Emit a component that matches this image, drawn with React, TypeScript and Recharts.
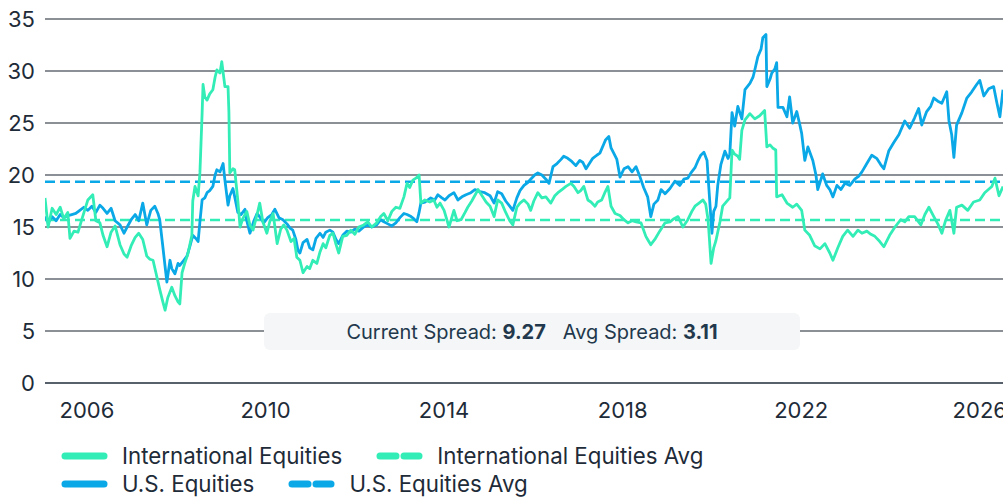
import React from 'react';
import { LineChart, Line, XAxis, YAxis, CartesianGrid, ReferenceLine } from 'recharts';

// forward P/E (decimal years)
const intlYears = [
  2005.06, 2005.13, 2005.22, 2005.31, 2005.40, 2005.48, 2005.57, 2005.62, 2005.71, 2005.80, 2005.89,
  2006.02, 2006.13, 2006.20, 2006.29, 2006.36, 2006.45, 2006.54, 2006.63, 2006.74, 2006.83, 2006.90, 2006.99,
  2007.08, 2007.16, 2007.25, 2007.34, 2007.41, 2007.48, 2007.55, 2007.63, 2007.70, 2007.75, 2007.81, 2007.90, 2007.97,
  2008.04, 2008.08, 2008.13, 2008.19, 2008.26, 2008.35, 2008.37, 2008.42, 2008.49, 2008.53, 2008.58, 2008.60, 2008.64,
  2008.69, 2008.75, 2008.82, 2008.87, 2008.91, 2008.98,
  2009.02, 2009.09, 2009.16, 2009.18, 2009.20, 2009.27, 2009.31, 2009.38, 2009.43, 2009.49, 2009.58, 2009.65, 2009.72,
  2009.81, 2009.87, 2009.94,
  2010.03, 2010.10, 2010.17, 2010.26, 2010.34, 2010.41, 2010.48, 2010.57, 2010.64, 2010.70, 2010.77, 2010.84, 2010.93, 2010.99,
  2011.06, 2011.15, 2011.22, 2011.29, 2011.35, 2011.44, 2011.51, 2011.58, 2011.64, 2011.73, 2011.82, 2011.91,
  2012.00, 2012.09, 2012.20, 2012.29, 2012.38, 2012.49, 2012.58, 2012.65, 2012.74, 2012.83, 2012.92,
  2013.01, 2013.10, 2013.17, 2013.23, 2013.30, 2013.37, 2013.44, 2013.48, 2013.57, 2013.68, 2013.77, 2013.84, 2013.91,
  2014.00, 2014.11, 2014.22, 2014.29, 2014.38, 2014.47, 2014.53, 2014.62, 2014.71, 2014.76, 2014.85, 2014.94,
  2015.03, 2015.12, 2015.20, 2015.29, 2015.38, 2015.47, 2015.54, 2015.63, 2015.70, 2015.79, 2015.88, 2015.94,
  2016.01, 2016.10, 2016.19, 2016.28, 2016.39, 2016.48, 2016.55, 2016.64, 2016.73, 2016.84, 2016.91,
  2017.00, 2017.06, 2017.13, 2017.22, 2017.29, 2017.38, 2017.44, 2017.53, 2017.60, 2017.67, 2017.74, 2017.83, 2017.94,
  2018.03, 2018.12, 2018.21, 2018.30, 2018.41, 2018.52, 2018.56, 2018.63, 2018.72, 2018.83, 2018.95,
  2019.06, 2019.15, 2019.24, 2019.35, 2019.46, 2019.55, 2019.62, 2019.71, 2019.80, 2019.86, 2019.91, 2019.93, 2019.98,
  2020.04, 2020.09, 2020.18, 2020.24, 2020.36, 2020.40, 2020.45, 2020.51, 2020.58, 2020.62, 2020.67, 2020.74, 2020.85, 2020.96,
  2021.07, 2021.18, 2021.23, 2021.30, 2021.36, 2021.43, 2021.45, 2021.57, 2021.68, 2021.81, 2021.90,
  2022.01, 2022.08, 2022.19, 2022.30, 2022.42, 2022.53, 2022.64, 2022.71, 2022.82, 2022.93,
  2023.04, 2023.16, 2023.27, 2023.36, 2023.47, 2023.56, 2023.65, 2023.76, 2023.85, 2023.98,
  2024.10, 2024.23, 2024.32, 2024.41, 2024.54, 2024.68, 2024.77, 2024.86, 2024.97,
  2025.06, 2025.15, 2025.24, 2025.33, 2025.42, 2025.48, 2025.60, 2025.73, 2025.86,
  2026.00, 2026.11, 2026.27, 2026.34, 2026.43, 2026.52,
];
const intlValues = [
  17.8, 15.0, 16.8, 16.2, 16.9, 15.8, 16.4, 13.9, 14.6, 14.5, 15.8,
  17.6, 18.1, 15.6, 15.4, 14.2, 13.1, 14.5, 15.1, 13.3, 12.4, 12.1, 13.2,
  14.0, 14.4, 13.8, 12.2, 11.9, 11.8, 10.5, 9.0, 7.8, 7.0, 8.2, 9.2, 8.4,
  7.8, 7.6, 10.6, 11.5, 12.4, 14.2, 17.5, 18.9, 18.0, 20.2, 26.0, 28.7, 27.5,
  27.2, 27.8, 28.2, 29.4, 30.1, 29.8,
  30.9, 28.5, 28.5, 26.0, 20.2, 20.6, 20.5, 17.5, 15.0, 15.8, 16.5, 15.2, 14.7,
  16.2, 17.3, 15.5,
  14.4, 15.6, 16.3, 13.4, 14.8, 15.2, 14.7, 13.6, 13.9, 12.1, 11.8, 10.6, 11.2, 11.0,
  11.8, 11.5, 12.6, 13.4, 13.0, 14.2, 14.4, 13.3, 12.5, 14.1, 14.2, 14.7,
  14.3, 15.0, 15.2, 15.5, 15.0, 15.4, 16.0, 16.3, 15.6, 16.5, 16.9,
  16.8, 17.9, 19.2, 18.8, 19.5, 19.7, 20.0, 17.3, 17.6, 17.4, 17.6, 16.9, 17.3,
  16.6, 15.0, 16.6, 15.6, 15.7, 16.4, 16.9, 17.5, 18.2, 18.6, 18.0, 17.4,
  17.0, 16.0, 17.6, 17.3, 16.4, 15.6, 15.2, 16.9, 17.3, 17.6, 17.2, 16.6,
  17.5, 18.3, 17.8, 17.9, 17.3, 18.0, 18.3, 18.6, 18.9, 19.2, 18.9,
  18.3, 18.5, 18.9, 17.6, 17.4, 17.0, 17.4, 17.6, 18.3, 18.9, 17.0, 16.3, 16.1,
  15.7, 15.4, 15.6, 15.5, 15.4, 14.1, 13.8, 13.3, 13.8, 14.6, 15.4,
  15.5, 15.8, 16.0, 15.0, 15.7, 16.5, 17.0, 17.3, 17.6, 17.2, 15.8, 14.7, 11.5,
  13.0, 13.7, 15.5, 17.0, 17.6, 17.8, 22.4, 22.0, 21.8, 21.5, 24.3, 25.3, 25.9, 25.4,
  25.7, 26.2, 22.7, 22.9, 22.6, 22.4, 17.9, 18.1, 17.3, 16.9, 17.2,
  16.6, 14.7, 14.2, 13.2, 12.9, 13.4, 12.5, 11.8, 13.0, 14.1,
  14.7, 14.1, 14.7, 14.4, 14.6, 14.3, 14.1, 13.6, 13.1, 14.2,
  15.0, 15.7, 15.5, 16.0, 16.0, 15.2, 16.2, 16.9, 16.0,
  15.3, 14.4, 15.7, 16.6, 14.4, 16.9, 17.1, 16.6, 17.4,
  17.6, 18.3, 18.9, 19.7, 18.0, 18.9,
];

const usYears = [
  2005.06, 2005.13, 2005.22, 2005.31, 2005.40, 2005.48, 2005.57, 2005.66, 2005.75, 2005.84, 2005.93,
  2006.02, 2006.11, 2006.20, 2006.29, 2006.36, 2006.45, 2006.54, 2006.63, 2006.74, 2006.83, 2006.90, 2006.99,
  2007.08, 2007.16, 2007.25, 2007.34, 2007.43, 2007.52, 2007.59, 2007.63, 2007.70, 2007.75, 2007.79, 2007.86, 2007.90, 2007.97,
  2008.04, 2008.08, 2008.17, 2008.24, 2008.31, 2008.37, 2008.44, 2008.49, 2008.53, 2008.58, 2008.64, 2008.69, 2008.75,
  2008.82, 2008.87, 2008.91, 2008.98,
  2009.05, 2009.09, 2009.16, 2009.20, 2009.27, 2009.31, 2009.38, 2009.45, 2009.54, 2009.58, 2009.65, 2009.74, 2009.81,
  2009.90, 2009.96,
  2010.05, 2010.14, 2010.21, 2010.30, 2010.39, 2010.48, 2010.55, 2010.61, 2010.68, 2010.73, 2010.77, 2010.84, 2010.93, 2010.99,
  2011.06, 2011.13, 2011.22, 2011.29, 2011.35, 2011.44, 2011.51, 2011.58, 2011.64, 2011.73, 2011.82, 2011.91,
  2012.00, 2012.09, 2012.20, 2012.29, 2012.38, 2012.49, 2012.58, 2012.65, 2012.74, 2012.83, 2012.92,
  2013.01, 2013.10, 2013.17, 2013.26, 2013.32, 2013.39, 2013.44, 2013.48, 2013.57, 2013.70, 2013.79, 2013.86, 2013.95,
  2014.02, 2014.11, 2014.22, 2014.31, 2014.40, 2014.49, 2014.60, 2014.69, 2014.80, 2014.91,
  2015.03, 2015.12, 2015.20, 2015.29, 2015.38, 2015.47, 2015.54, 2015.63, 2015.70, 2015.79, 2015.88, 2015.94,
  2016.03, 2016.10, 2016.19, 2016.28, 2016.35, 2016.44, 2016.53, 2016.62, 2016.68, 2016.77, 2016.86, 2016.95,
  2017.04, 2017.11, 2017.18, 2017.24, 2017.33, 2017.42, 2017.49, 2017.58, 2017.62, 2017.69, 2017.74, 2017.80, 2017.87, 2017.94,
  2018.03, 2018.12, 2018.21, 2018.30, 2018.39, 2018.47, 2018.56, 2018.63, 2018.70, 2018.79, 2018.86, 2018.95,
  2019.06, 2019.17, 2019.28, 2019.37, 2019.46, 2019.53, 2019.62, 2019.68, 2019.75, 2019.82, 2019.89, 2019.93,
  2020.00, 2020.04, 2020.09, 2020.13, 2020.20, 2020.29, 2020.36, 2020.40, 2020.45, 2020.51, 2020.58, 2020.67, 2020.74,
  2020.85, 2020.92, 2020.96,
  2021.03, 2021.10, 2021.14, 2021.21, 2021.23, 2021.30, 2021.34, 2021.41, 2021.45, 2021.48, 2021.59, 2021.68, 2021.74,
  2021.81, 2021.90, 2021.97,
  2022.01, 2022.08, 2022.15, 2022.26, 2022.33, 2022.37, 2022.48, 2022.57, 2022.64, 2022.71, 2022.80, 2022.89, 2022.98,
  2023.09, 2023.20, 2023.29, 2023.36, 2023.47, 2023.58, 2023.69, 2023.78, 2023.85, 2023.96,
  2024.07, 2024.19, 2024.32, 2024.43, 2024.54, 2024.63, 2024.70, 2024.81, 2024.90, 2024.97,
  2025.06, 2025.15, 2025.26, 2025.31, 2025.37, 2025.42, 2025.48, 2025.60, 2025.71, 2025.82, 2025.93,
  2026.00, 2026.09, 2026.20, 2026.31, 2026.38, 2026.45, 2026.52,
];
const usValues = [
  16.0, 15.4, 16.0, 15.6, 16.2, 15.9, 16.1, 16.2, 16.3, 16.6, 16.9,
  16.6, 17.0, 16.4, 17.1, 16.8, 16.3, 16.8, 15.6, 15.2, 14.4, 15.0, 15.7,
  16.2, 15.6, 17.3, 15.2, 16.6, 17.0, 16.3, 15.7, 13.1, 11.2, 9.7, 11.8, 11.0, 10.5,
  11.5, 11.3, 11.8, 12.2, 13.2, 14.2, 13.9, 13.6, 15.5, 17.6, 17.8, 18.3, 18.5,
  18.9, 20.0, 20.5, 20.3,
  21.1, 19.5, 17.1, 18.0, 18.7, 17.9, 16.4, 16.2, 16.7, 15.6, 14.4, 15.6, 16.3,
  15.8, 15.4,
  15.9, 16.2, 16.7, 15.9, 15.7, 15.3, 14.9, 14.7, 13.8, 12.7, 12.5, 13.5, 13.8, 13.0,
  12.8, 13.9, 14.4, 14.0, 14.5, 14.7, 14.5, 13.8, 13.4, 14.2, 14.6, 14.5,
  14.8, 14.6, 15.0, 15.2, 15.0, 15.2, 15.7, 15.5, 15.3, 15.1, 15.4,
  15.9, 16.3, 16.2, 16.0, 15.8, 15.5, 16.4, 17.3, 17.4, 17.8, 17.6, 18.1, 17.8,
  17.6, 18.0, 18.3, 17.6, 17.9, 18.1, 18.3, 18.6, 18.4, 18.3,
  18.0, 17.3, 18.4, 18.2, 17.5, 17.0, 16.6, 17.8, 18.5, 19.0, 19.3, 19.6,
  20.0, 20.2, 20.0, 19.6, 19.2, 20.8, 21.1, 21.5, 21.8, 21.6, 21.3, 20.9,
  21.4, 21.2, 20.6, 21.0, 21.6, 21.9, 22.1, 23.0, 23.4, 23.7, 22.6, 22.1, 21.5, 19.8,
  20.6, 20.8, 20.3, 20.8, 19.8, 18.8, 17.9, 16.0, 17.2, 17.6, 18.6, 18.2,
  18.7, 19.4, 19.0, 19.6, 19.7, 20.2, 20.7, 21.3, 21.9, 22.2, 21.4, 18.8,
  14.4, 16.5, 17.0, 19.0, 21.0, 22.3, 21.6, 22.0, 26.0, 24.7, 26.6, 25.4, 28.2,
  28.8, 29.4, 30.1,
  31.4, 32.1, 33.2, 33.5, 28.5, 29.2, 29.8, 30.2, 30.8, 26.5, 26.5, 25.6, 27.5,
  25.0, 26.1, 24.8,
  24.0, 21.4, 22.7, 21.4, 20.0, 18.6, 20.1, 19.0, 18.6, 17.9, 19.0, 18.6, 19.2,
  19.0, 19.6, 19.9, 20.3, 21.1, 21.9, 21.6, 21.0, 20.6, 22.3,
  23.1, 23.9, 25.2, 24.5, 25.5, 26.4, 24.8, 26.1, 26.6, 27.4,
  27.1, 26.9, 28.0, 25.2, 23.9, 21.7, 24.8, 26.0, 27.4, 28.0, 28.7,
  29.1, 27.6, 28.3, 28.5, 27.0, 25.6, 28.2,
];

const intlAvg = 15.67;
const usAvg = 19.36;
const currentSpread = '9.27';
const avgSpread = '3.11';

const xTicks = [2006, 2010, 2014, 2018, 2022, 2026];
const yTicks = [0, 5, 10, 15, 20, 25, 30, 35];

const GREEN = '#33EDB7';
const BLUE = '#0AA8E6';
const INK = '#1E2B38';
const FONT = 'Inter, "Noto Sans", sans-serif';

const intlData = intlYears.map((t, i) => ({ t, v: intlValues[i] }));
const usData = usYears.map((t, i) => ({ t, v: usValues[i] }));

const LegendIcon: React.FC<{ color: string; dashed?: boolean }> = ({ color, dashed }) => (
  <svg width={48} height={10} style={{ display: 'block' }}>
    {dashed ? (
      <>
        <line x1={4} y1={5} x2={20} y2={5} stroke={color} strokeWidth={7} strokeLinecap="round" />
        <line x1={28} y1={5} x2={43} y2={5} stroke={color} strokeWidth={7} strokeLinecap="round" />
      </>
    ) : (
      <line x1={4} y1={5} x2={43} y2={5} stroke={color} strokeWidth={7} strokeLinecap="round" />
    )}
  </svg>
);

const LegendItem: React.FC<{ color: string; dashed?: boolean; label: string }> = ({ color, dashed, label }) => (
  <div style={{ display: 'flex', alignItems: 'center', gap: 13, marginRight: 34 }}>
    <LegendIcon color={color} dashed={dashed} />
    <span>{label}</span>
  </div>
);

export default function App() {
  return (
    <div style={{ position: 'absolute', left: 0, top: 0, width: 1003, height: 498, background: '#fff', fontFamily: FONT, overflow: 'hidden' }}>
      <LineChart width={1003} height={430} margin={{ top: 19, right: 0, bottom: 7, left: 0 }}>
        <CartesianGrid vertical={false} stroke="#17222D" strokeWidth={1.2} />
        <XAxis
          type="number"
          dataKey="t"
          domain={[2005.06, 2026.52]}
          ticks={xTicks}
          allowDataOverflow
          height={40}
          tickLine={false}
          axisLine={{ stroke: '#56616C', strokeWidth: 2 }}
          tickMargin={13}
          tick={{ fontSize: 22, fill: INK, fontFamily: FONT }}
        />
        <YAxis
          type="number"
          domain={[0, 35]}
          ticks={yTicks}
          width={45}
          tickLine={false}
          axisLine={false}
          tickMargin={4}
          tick={{ fontSize: 22, fill: INK, fontFamily: FONT }}
        />
        <ReferenceLine y={usAvg} stroke={BLUE} strokeWidth={2.5} strokeDasharray="10 5" />
        <ReferenceLine y={intlAvg} stroke={GREEN} strokeWidth={2.5} strokeDasharray="10 5" />
        <Line data={usData} dataKey="v" type="linear" stroke={BLUE} strokeWidth={2.8} dot={false} isAnimationActive={false} strokeLinejoin="round" />
        <Line data={intlData} dataKey="v" type="linear" stroke={GREEN} strokeWidth={2.8} dot={false} isAnimationActive={false} strokeLinejoin="round" />
      </LineChart>

      <div
        style={{
          position: 'absolute', left: 264, top: 313, width: 536, height: 37,
          background: '#F4F6F7', borderRadius: 6, display: 'flex', alignItems: 'center',
          justifyContent: 'center', fontSize: 20, color: '#22384C', whiteSpace: 'pre',
        }}
      >
        <span>Current Spread: <b>{currentSpread}</b></span>
        <span style={{ marginLeft: 17 }}>Avg Spread: <b>{avgSpread}</b></span>
      </div>

      <div style={{ position: 'absolute', left: 61, top: 442, fontSize: 22.3, color: INK, lineHeight: '28px' }}>
        <div style={{ display: 'flex' }}>
          <LegendItem color={GREEN} label="International Equities" />
          <LegendItem color={GREEN} dashed label="International Equities Avg" />
        </div>
        <div style={{ display: 'flex' }}>
          <LegendItem color={BLUE} label="U.S. Equities" />
          <LegendItem color={BLUE} dashed label="U.S. Equities Avg" />
        </div>
      </div>
    </div>
  );
}
